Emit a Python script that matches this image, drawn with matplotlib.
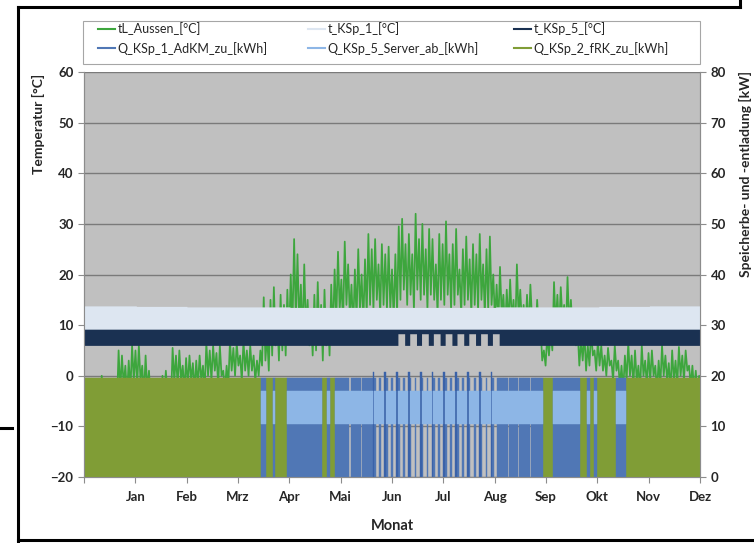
import matplotlib.pyplot as plt
from matplotlib.lines import Line2D
from matplotlib.patches import Rectangle
import numpy as np

plt.rcParams['font.family'] = ['Lato', 'DejaVu Sans']

months = ['Jan', 'Feb', 'Mrz', 'Apr', 'Mai', 'Jun', 'Jul', 'Aug', 'Sep', 'Okt', 'Nov', 'Dez']

# outside air temperature, max / min per 2-day step [°C]
t_out_hi = [
    -3, -1, -2, -4, -2, 0, -1, -3, -2, -1,
    5, 4, 2, 3, 6, 5, 6, 2, 4, 1,
    -2, -1, -3, 0, 1, -1, 5.5, 4, 5, 2,
    3.5, 4, 2.5, 3, 4, 2, 6.5, 5, 6, 4.5,
    6, 1, 2, 7, 5.5, 6.5, 4, 7, 5, 6,
    4, 3, 5, 15.5, 8, 15, 17.5, 12, 16, 14,
    17, 20, 27, 24, 18, 22, 15, 12, 16, 18.5,
    14, 17, 13, 18, 21, 24.5, 19, 26.5, 22, 18,
    21, 25, 20, 23, 28, 25, 27, 22, 26, 24,
    25.5, 21, 24, 29.5, 31, 26, 28, 24, 32, 27,
    30, 25, 29, 27, 22, 28, 26, 30.5, 24, 26,
    29, 21, 25, 27.5, 23, 26, 24, 28, 22, 25,
    27.5, 20, 18, 21.5, 16, 17, 19, 15, 22, 17,
    14, 16, 18, 13, 15, 10, 5, 8, 9, 18.5,
    16, 17.5, 14, 19.5, 15, 12, 9, 7, 8.5, 6,
    9, 5, 7, 6, 4, 5.5, 3, 6, 3, 2,
    4, 6.5, 4, 5, 2, 6, 3, 4.5, 5, 2,
    3, 6, 4, 2.5, 5, 3, 5.7, 4, 5, 2,
    2, 1, 0,
]
t_out_lo = [
    -8, -6, -9, -10, -7, -5, -8, -9, -7, -6,
    -3, -2, -4, -3, -1, -2, -1, -4, -3, -5,
    -7, -6, -9, -5, -4, -6, -1, -2, -1, -3,
    -2, -1, -3, -2, -1, -3, 0, -1, 1, -2,
    0, -3, -2, 1, 0, 2, -1, 1, 0, 1,
    -1, 0, 2, 3, 1, 4, 6, 3, 5, 4,
    7, 9, 11, 10, 7, 9, 6, 4, 5, 7,
    3, 6, 4, 8, 11, 13, 10, 14, 12, 9,
    11, 13, 10, 12, 14, 13, 15, 12, 14, 13,
    13, 11, 12, 15, 17, 14, 16, 13, 17, 15,
    16, 13, 16, 15, 12, 15, 14, 16, 13, 14,
    16, 12, 14, 15, 12, 14, 13, 15, 12, 13,
    14, 11, 10, 12, 9, 10, 11, 8, 12, 10,
    8, 9, 11, 7, 9, 3, 2, 4, 5, 10,
    9, 11, 8, 10, 9, 6, 2, 3, 1, 2,
    4, 1, 2, 1, 0, 2, -1, 1, -2, -3,
    -1, 0, -2, -1, -3, 0, -2, -1, 0, -3,
    -2, 0, -1, -3, -1, -2, 0, -1, 1, -2,
    -3, -4, -5,
]

# storage tank 1: upper temperature per month, lower bound [°C]
t_ksp1_hi = [13.8, 13.7, 13.6, 13.6, 13.5, 13.5, 13.5, 13.5, 13.6, 13.6, 13.7, 13.8]
t_ksp1_lo = 9.0

# storage tank 5: F = full swing, t = stays near the top (days per run)
t_ksp5_runs = [
    ('F', 186),
    ('t', 4), ('F', 3), ('t', 4), ('F', 3), ('t', 4), ('F', 3), ('t', 4), ('F', 3),
    ('t', 4), ('F', 3), ('t', 4), ('F', 3), ('t', 4), ('F', 3), ('t', 4), ('F', 3),
    ('t', 4), ('F', 119),
]
t_ksp5_hi = 9.2
t_ksp5_lo = {'F': 6.0, 't': 8.3}

# charging per day: G = fRK, B = AdKM + server, D = AdKM peak, . = server only
q_runs = [
    ('G', 105), ('B', 3), ('G', 4), ('B', 1), ('G', 7), ('B', 21),
    ('G', 3), ('B', 2), ('G', 3), ('B', 2),
    ('B', 6), ('.', 1), ('B', 6), ('.', 1), ('B', 6),
    ('D', 1), ('B', 1), ('.', 2), ('B', 1), ('.', 2),
    ('D', 1), ('B', 1), ('.', 2), ('B', 1), ('.', 2),
    ('D', 1), ('B', 1), ('.', 2), ('B', 1), ('.', 2),
    ('D', 1), ('B', 1), ('.', 2), ('B', 1), ('.', 2),
    ('D', 1), ('B', 1), ('.', 2), ('B', 1), ('.', 2),
    ('D', 1), ('B', 1), ('.', 2), ('B', 1), ('.', 2),
    ('D', 1), ('B', 1), ('.', 2), ('B', 1), ('.', 2),
    ('D', 1), ('B', 1), ('.', 2), ('B', 1), ('.', 2),
    ('D', 1), ('B', 1), ('.', 2), ('B', 1), ('.', 2),
    ('D', 1), ('B', 1), ('.', 2), ('B', 1), ('.', 2),
    ('D', 1), ('B', 1), ('.', 2), ('B', 1),
    ('B', 5), ('.', 1), ('B', 5), ('.', 1), ('B', 6), ('.', 1), ('B', 7),
    ('G', 6), ('B', 16), ('G', 4), ('B', 2), ('G', 2), ('B', 2), ('G', 2),
    ('G', 9), ('B', 6), ('G', 44),
]
q_frk = 19.6
q_adkm = 19.6
q_adkm_peak = 20.8
q_server = (10.5, 17.0)

c_out = '#3da63d'
c_ksp1 = '#dde6f1'
c_ksp5 = '#1a3152'
c_adkm = '#5077b5'
c_peak = '#3a62a8'
c_server = '#8db6e6'
c_frk = '#809d36'


def expand(runs):
    codes = []
    for code, n in runs:
        codes += [code] * n
    return np.array(codes)


fig = plt.figure(figsize=(7.54, 5.43), dpi=100)
ax = fig.add_axes([84 / 754, 1 - 477 / 543, 616 / 754, 405 / 543])
ax.set_facecolor('#c0c0c0')
ax2 = ax.twinx()

ax.set_xlim(0, 365)
ax.set_ylim(-20, 60)
ax2.set_ylim(0, 80)
ax.set_yticks(range(-20, 61, 10))
ax2.set_yticks(range(0, 81, 10))
ax.yaxis.grid(True, color='#7a7a7a', lw=1.0)
ax.set_axisbelow(True)

# outside temperature as a dense zigzag
d2 = np.arange(len(t_out_hi)) * 2
xs = np.column_stack([d2 + 0.5, d2 + 1.5]).ravel()
ys = np.column_stack([t_out_hi, t_out_lo]).ravel()
ax.plot(xs, ys, color=c_out, lw=1.25, zorder=2)

# storage temperatures as bands
edges = np.arange(366)
mon = np.minimum((edges * 12) // 365, 11)
hi1 = np.array(t_ksp1_hi)[mon]
ax.fill_between(edges, t_ksp1_lo, hi1, step='post', color=c_ksp1, lw=0, zorder=3)

k5 = expand(t_ksp5_runs)
lo5 = np.array([t_ksp5_lo[c] for c in k5])
lo5 = np.append(lo5, lo5[-1])
ax.fill_between(edges, lo5, t_ksp5_hi, step='post', color=c_ksp5, lw=0, zorder=4)

# charging / discharging power on the right axis
q = expand(q_runs)
dx = np.arange(len(q)) + 0.5
sel = q == 'G'
ax2.bar(dx[sel], q_frk, width=1.0, color=c_frk, edgecolor=c_frk, lw=0.3)
sel = q == 'B'
ax2.bar(dx[sel], q_adkm, width=1.0, color=c_adkm, edgecolor=c_adkm, lw=0.3)
sel = q == 'D'
ax2.bar(dx[sel], q_adkm_peak, width=1.0, color=c_peak, edgecolor=c_peak, lw=0.3)
sel = np.isin(q, ['B', '.'])
ax2.bar(dx[sel], q_server[1] - q_server[0], bottom=q_server[0], width=1.0,
        color=c_server, edgecolor=c_server, lw=0.3)

ax.set_xticks(np.arange(13) * 365 / 12)
ax.set_xticklabels([''] + months)

for a in (ax, ax2):
    a.spines['top'].set_visible(False)
    for s in ('left', 'right', 'bottom'):
        a.spines[s].set_color('#8c8c8c')
    a.tick_params(colors='#8c8c8c', labelcolor='#262626', labelsize=9.5, length=4)
    for lab in a.get_xticklabels() + a.get_yticklabels():
        lab.set_fontweight('bold')
ax.tick_params(axis='x', pad=6)

fig.text(38 / 754, 1 - 124 / 543, 'Temperatur [°C]', rotation=90, ha='center',
         va='center', fontsize=10, fontweight='bold', color='#262626')
fig.text(745 / 754, 1 - 174 / 543, 'Speicherbe- und -entladung [kW]', rotation=90,
         ha='center', va='center', fontsize=10, fontweight='bold', color='#262626')
fig.text(392 / 754, 1 - 526 / 543, 'Monat', ha='center', va='center',
         fontsize=10.5, fontweight='bold', color='#262626')

# legend box with three columns
fig.add_artist(Rectangle((83 / 754, 1 - 64 / 543), 617 / 754, 43 / 543,
                         transform=fig.transFigure, facecolor='white',
                         edgecolor='#a6a6a6', lw=0.8, zorder=5))
columns = [
    (98, [('tL_Aussen_[°C]', c_out), ('Q_KSp_1_AdKM_zu_[kWh]', c_adkm)]),
    (308, [('t_KSp_1_[°C]', c_ksp1), ('Q_KSp_5_Server_ab_[kWh]', c_server)]),
    (514, [('t_KSp_5_[°C]', c_ksp5), ('Q_KSp_2_fRK_zu_[kWh]', c_frk)]),
]
for x0, entries in columns:
    handles = [Line2D([], [], color=c, lw=1.5, label=t) for t, c in entries]
    leg = fig.legend(handles=handles, loc='upper left',
                     bbox_to_anchor=(x0 / 754, 1 - 22 / 543), frameon=False,
                     borderpad=0, borderaxespad=0, handlelength=1.35,
                     handletextpad=0.2, labelspacing=0.55, fontsize=9,
                     labelcolor='#262626')
    leg.set_zorder(6)

# surrounding frame
frame = dict(color='black', lw=2.2, transform=fig.transFigure)
fig.add_artist(Line2D([18 / 754, 18 / 754], [0, 1 - 7 / 543], **frame))
fig.add_artist(Line2D([18 / 754, 740 / 754], [1 - 7 / 543, 1 - 7 / 543], **frame))
fig.add_artist(Line2D([740 / 754, 740 / 754], [1 - 7 / 543, 1], **frame))
fig.add_artist(Line2D([18 / 754, 1], [1 - 540 / 543, 1 - 540 / 543], **frame))
fig.add_artist(Line2D([0, 12 / 754], [1 - 428 / 543, 1 - 428 / 543], **frame))

fig.savefig('out.png', dpi=100)
